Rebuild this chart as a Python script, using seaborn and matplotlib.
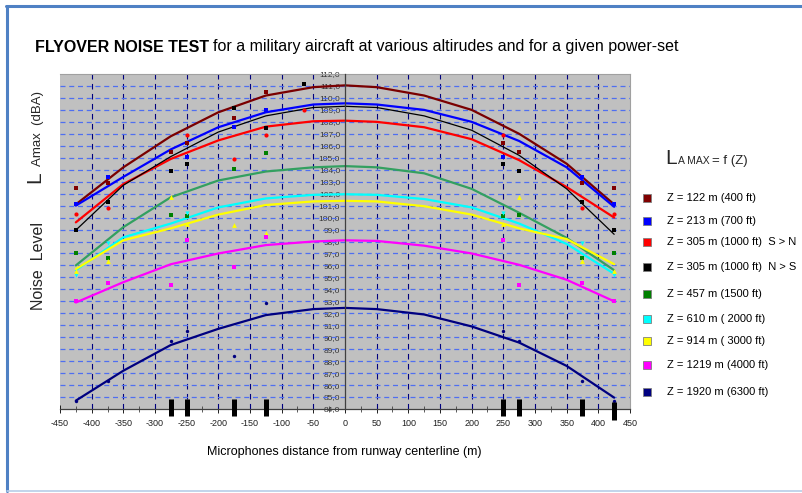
import numpy as np
import pandas as pd
import matplotlib
matplotlib.use("Agg")
import matplotlib.pyplot as plt
import seaborn as sns
from matplotlib.patches import Rectangle
from matplotlib.lines import Line2D
from matplotlib.ticker import MultipleLocator, FuncFormatter

# ---------------- data ----------------
labels = ["Z = 122 m (400 ft)", "Z = 213 m (700 ft)", "Z = 305 m (1000 ft)  S > N",
          "Z = 305 m (1000 ft)  N > S", "Z = 457 m (1500 ft)", "Z = 610 m ( 2000 ft)",
          "Z = 914 m ( 3000 ft)", "Z = 1219 m (4000 ft)", "Z = 1920 m (6300 ft)"]

# trend-line readings (dBA) at these distances
trend_x = [-425, -350, -275, -200, -125, -50, 0, 50, 125, 200, 275, 350, 425]
trend_122 = [101.1, 104.2, 106.8, 108.8, 110.2, 110.9, 111.05, 110.9, 110.2, 109.0, 107.0, 104.5, 101.1]
trend_213 = [101.0, 103.4, 105.7, 107.55, 108.8, 109.45, 109.55, 109.45, 109.0, 108.0, 106.4, 104.2, 100.9]
trend_305sn = [99.6, 102.8, 104.9, 106.45, 107.6, 108.05, 108.1, 108.0, 107.55, 106.55, 104.8, 102.55, 100.0]
trend_305ns = [98.95, 102.7, 105.1, 107.15, 108.5, 109.2, 109.3, 109.2, 108.5, 107.3, 105.2, 102.4, 98.6]
trend_457 = [96.0, 99.2, 101.7, 103.1, 103.85, 104.2, 104.3, 104.2, 103.7, 102.4, 100.4, 98.3, 95.6]
trend_610 = [95.6, 98.35, 99.5, 100.85, 101.6, 101.9, 101.95, 101.9, 101.55, 100.85, 99.5, 97.8, 95.3]
trend_914 = [95.7, 98.1, 99.1, 100.25, 101.05, 101.35, 101.4, 101.35, 100.95, 100.25, 99.1, 98.2, 96.1]
trend_1219 = [92.9, 94.6, 96.1, 97.0, 97.7, 98.0, 98.1, 98.05, 97.65, 97.0, 96.05, 94.8, 93.0]
trend_1920 = [84.7, 87.2, 89.35, 90.7, 91.85, 92.35, 92.45, 92.35, 91.9, 90.9, 89.55, 87.6, 84.95]

# measured points (dBA) at microphone distances (None = no reading)
mic_x = [-425, -375, -275, -250, -175, -125, -65, 250, 275, 375, 425]
pts_122 = [102.5, 102.9, 105.5, 106.2, 108.3, 110.5, None, 106.2, 105.5, 102.9, 102.5]
pts_213 = [101.1, 103.4, None, 105.1, 107.6, 109.0, None, 105.1, None, 103.4, 101.1]
pts_305sn = [100.3, 100.8, None, 106.9, 104.9, 106.9, 109.0, 106.9, None, 100.8, 100.3]
pts_305ns = [99.0, 101.3, 103.9, 104.5, 109.2, 107.5, 111.2, 104.5, 103.9, 101.3, 99.0]
pts_457 = [97.0, 96.6, 100.2, 100.1, 104.1, 105.4, None, 100.1, 100.2, 96.6, 97.0]
pts_610 = [95.2, 97.9, None, 100.4, None, None, None, 100.4, None, 97.9, 95.2]
pts_914 = [95.5, 96.4, 101.7, 99.5, 99.4, 98.7, None, 99.5, 101.7, 96.4, 95.5]
pts_1219 = [93.0, 94.5, 94.4, 98.1, 95.9, 98.4, None, 98.1, 94.4, 94.5, 93.0]
pts_1920 = [84.7, 86.3, 89.7, 90.5, 88.4, 92.9, None, 90.5, 89.7, 86.3, 84.7]

bar_mics = [-275, -250, -175, -125, 250, 275, 375, 425]

trends = [trend_122, trend_213, trend_305sn, trend_305ns, trend_457,
          trend_610, trend_914, trend_1219, trend_1920]
points = [pts_122, pts_213, pts_305sn, pts_305ns, pts_457,
          pts_610, pts_914, pts_1219, pts_1920]

line_colors = ["#7a0000", "#0000ff", "#ff0000", "#000000", "#33a060",
               "#00ffff", "#ffff00", "#ff00ff", "#000080"]
mark_colors = ["#800000", "#0000ff", "#ff0000", "#000000", "#008000",
               "#00ffff", "#ffff00", "#ff00ff", "#000080"]
legend_colors = mark_colors
line_widths = [1.6, 1.6, 1.6, 0.9, 1.6, 1.6, 1.6, 1.6, 1.6]
markers = ["s", "s", "o", "s", "s", "v", "^", "s", "o"]
marker_sizes = [10, 10, 9, 10, 10, 9, 12, 10, 6]

trend_df = pd.concat([pd.DataFrame({"x": trend_x, "y": t, "series": l})
                      for t, l in zip(trends, labels)], ignore_index=True)
pts_df = pd.concat([pd.DataFrame({"x": mic_x, "y": p, "series": l})
                    for p, l in zip(points, labels)], ignore_index=True).dropna()

# ---------------- figure ----------------
sns.set_theme(style="white")
plt.rcParams["font.family"] = ["Liberation Sans", "DejaVu Sans"]
plt.rcParams["axes.unicode_minus"] = False

W, H = 803, 493
fig = plt.figure(figsize=(W / 100, H / 100), dpi=100)
fig.patch.set_facecolor("white")
ax = fig.add_axes([60 / W, (H - 409) / H, 570 / W, 335 / H])
ax.set_facecolor("#c0c0c0")

for i, lab in enumerate(labels):
    sub = trend_df[trend_df["series"] == lab]
    sns.lineplot(data=sub, x="x", y="y", ax=ax, color=line_colors[i],
                 lw=line_widths[i], sort=False, estimator=None, zorder=3 + i * 0.01)
for i, lab in enumerate(labels):
    sub = pts_df[pts_df["series"] == lab]
    sns.scatterplot(data=sub, x="x", y="y", ax=ax, color=mark_colors[i],
                    marker=markers[i], s=marker_sizes[i], linewidth=0, zorder=5)

ax.set_xlim(-450, 450)
ax.set_ylim(84, 112)

# grids
ax.xaxis.set_major_locator(MultipleLocator(50))
ax.xaxis.set_minor_locator(MultipleLocator(25))
ax.yaxis.set_major_locator(MultipleLocator(1))
ax.grid(False)
for xv in np.arange(-400, 451, 50):
    if xv != 0 and xv != 450:
        ax.axvline(xv, color="#000080", lw=0.8, ls=(0, (5, 4)), zorder=1)
for yv in np.arange(85, 112, 1):
    ax.axhline(yv, color="#4f6ff0", lw=0.9, ls=(0, (4, 3)), zorder=1)

# spines
ax.spines["left"].set_position(("data", 0))
for s in ["left", "bottom"]:
    ax.spines[s].set_color("#404040")
    ax.spines[s].set_linewidth(0.9)
    ax.spines[s].set_zorder(6)
for s in ["top", "right"]:
    ax.spines[s].set_color("#a0a0a0")
    ax.spines[s].set_linewidth(0.8)

ax.yaxis.set_major_formatter(FuncFormatter(lambda v, p: f"{v:.1f}".replace(".", ",")))
ax.tick_params(axis="y", which="major", direction="out", length=2.5, width=0.6,
               labelsize=6, colors="#333333", pad=1)
ax.tick_params(axis="x", which="major", direction="inout", length=6, width=0.7,
               labelsize=6.5, colors="#202020", pad=4, bottom=True)
ax.tick_params(axis="x", which="minor", direction="inout", length=4, width=0.6,
               colors="#404040", bottom=True)
ax.set_xlabel("")
ax.set_ylabel("")

# microphone markers
ax.vlines(bar_mics[:-1], 83.45, 84.8, colors="black", lw=3.6, clip_on=False, zorder=7)
ax.vlines(bar_mics[-1:], 83.1, 84.55, colors="black", lw=3.6, clip_on=False, zorder=7)

# ---------------- texts ----------------
def fx(px):
    return px / W

def fy(py):
    return 1 - py / H

t1 = fig.text(fx(35), fy(47), "FLYOVER NOISE TEST", fontsize=11.5, fontweight="bold",
              va="center", ha="left", color="black")
fig.canvas.draw()
bb = t1.get_window_extent(renderer=fig.canvas.get_renderer())
fig.text(bb.x1 / W + 4 / W, fy(47),
         "for a military aircraft at various altirudes and for a given power-set",
         fontsize=11.5, va="center", ha="left", color="black")

fig.text(fx(344), fy(452), "Microphones distance from runway centerline (m)",
         fontsize=9, ha="center", va="center", color="black")

fig.text(fx(35), fy(183), "L", fontsize=15, rotation=90, ha="center", va="bottom")
fig.text(fx(38), fy(166), "Amax  (dBA)", fontsize=9.5, rotation=90, ha="center", va="bottom")
fig.text(fx(39), fy(266), "Noise  Level", fontsize=11.5, rotation=90, ha="center", va="center")

# legend title
fig.text(fx(665), fy(164), "L", fontsize=15, ha="left", va="baseline")
fig.text(fx(678), fy(164), "A MAX", fontsize=7.5, ha="left", va="baseline")
fig.text(fx(712), fy(164), "= f (Z)", fontsize=9.5, ha="left", va="baseline")

leg_y = [198, 220.5, 242, 267, 294, 319, 341, 365, 392]
for lab, col, yy in zip(labels, legend_colors, leg_y):
    fig.add_artist(Rectangle((fx(643), fy(yy + 4)), 8 / W, 8 / H, transform=fig.transFigure,
                             facecolor=col, edgecolor="#808080", lw=0.6))
    fig.text(fx(667), fy(yy), lab, fontsize=8, ha="left", va="center", color="black")

# frame
fig.add_artist(Line2D([fx(7), fx(7)], [fy(6), fy(491)], transform=fig.transFigure,
                      color="#4f81c4", lw=2.2))
fig.add_artist(Line2D([fx(6), fx(803)], [fy(6), fy(6)], transform=fig.transFigure,
                      color="#4f81c4", lw=2.2))
fig.add_artist(Line2D([fx(7), fx(803)], [fy(491), fy(491)], transform=fig.transFigure,
                      color="#b8cde8", lw=1.2))

fig.savefig("out.png", dpi=100)
